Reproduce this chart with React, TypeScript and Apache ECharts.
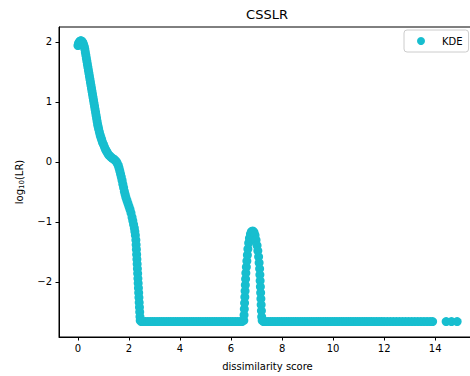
import React, { useEffect, useRef } from "react";
import * as echarts from "echarts";

// Descending part of the KDE curve (dissimilarity score, log10 LR)
const mainX = [0.0, 0.02, 0.04, 0.07, 0.1, 0.13, 0.16, 0.19, 0.22, 0.25, 0.27, 0.29, 0.31, 0.33, 0.35, 0.37, 0.39, 0.41, 0.43, 0.45, 0.47, 0.49, 0.51, 0.53, 0.55, 0.57, 0.59, 0.61, 0.63, 0.65, 0.67, 0.69, 0.71, 0.73, 0.75, 0.77, 0.79, 0.81, 0.84, 0.87, 0.9, 0.93, 0.96, 1.0, 1.04, 1.08, 1.12, 1.16, 1.2, 1.25, 1.3, 1.35, 1.4, 1.45, 1.5, 1.54, 1.58, 1.61, 1.64, 1.67, 1.7, 1.73, 1.76, 1.79, 1.82, 1.85, 1.88, 1.92, 1.96, 2.0, 2.04, 2.08, 2.12, 2.15, 2.18, 2.21, 2.23, 2.25, 2.27, 2.28, 2.29, 2.3, 2.31, 2.32, 2.33, 2.34, 2.35, 2.36, 2.37, 2.38, 2.39, 2.4, 2.41, 2.42, 2.43, 2.44];
const mainY = [1.94, 1.97, 1.99, 2.01, 2.02, 2.02, 2.01, 1.99, 1.96, 1.92, 1.88, 1.83, 1.78, 1.73, 1.68, 1.63, 1.58, 1.53, 1.48, 1.43, 1.38, 1.33, 1.28, 1.23, 1.18, 1.13, 1.08, 1.03, 0.98, 0.93, 0.88, 0.83, 0.78, 0.73, 0.68, 0.63, 0.59, 0.55, 0.5, 0.45, 0.41, 0.37, 0.33, 0.29, 0.25, 0.21, 0.18, 0.15, 0.12, 0.1, 0.08, 0.06, 0.05, 0.03, 0.01, -0.02, -0.06, -0.1, -0.15, -0.2, -0.25, -0.31, -0.37, -0.43, -0.49, -0.54, -0.59, -0.64, -0.69, -0.74, -0.79, -0.85, -0.92, -0.98, -1.04, -1.1, -1.16, -1.22, -1.3, -1.38, -1.46, -1.54, -1.62, -1.7, -1.78, -1.86, -1.94, -2.02, -2.1, -2.18, -2.26, -2.34, -2.42, -2.5, -2.58, -2.64];

// Secondary bump near 6.85
const peakX = [6.5, 6.51, 6.52, 6.53, 6.54, 6.55, 6.56, 6.57, 6.58, 6.6, 6.62, 6.64, 6.66, 6.69, 6.72, 6.76, 6.8, 6.85, 6.9, 6.94, 6.98, 7.02, 7.05, 7.08, 7.1, 7.12, 7.13, 7.14, 7.15, 7.16, 7.17, 7.18, 7.19, 7.2, 7.22];
const peakY = [-2.64, -2.55, -2.45, -2.35, -2.25, -2.15, -2.05, -1.95, -1.85, -1.75, -1.65, -1.55, -1.45, -1.35, -1.27, -1.2, -1.16, -1.15, -1.17, -1.22, -1.3, -1.39, -1.48, -1.58, -1.68, -1.78, -1.88, -1.98, -2.08, -2.18, -2.28, -2.38, -2.48, -2.58, -2.64];

// Floor level points
const FLOOR_Y = -2.66;
const floorX = [2.48, 2.56, 2.65, 2.74, 2.83, 2.92, 3.01, 3.1, 3.19, 3.28, 3.37, 3.46, 3.55, 3.64, 3.73, 3.82, 3.91, 4.0, 4.09, 4.18, 4.27, 4.36, 4.45, 4.54, 4.63, 4.72, 4.81, 4.9, 4.99, 5.08, 5.17, 5.26, 5.35, 5.44, 5.53, 5.62, 5.71, 5.8, 5.89, 5.98, 6.07, 6.16, 6.25, 6.34, 6.43,
  7.27, 7.36, 7.45, 7.54, 7.63, 7.72, 7.81, 7.9, 7.99, 8.08, 8.17, 8.26, 8.35, 8.44, 8.53, 8.62, 8.71, 8.8, 8.89, 8.98, 9.07, 9.16, 9.25, 9.34, 9.43, 9.52, 9.61, 9.7, 9.79, 9.88, 9.97, 10.06, 10.15, 10.24, 10.33, 10.42, 10.51, 10.6, 10.69, 10.78, 10.87, 10.96, 11.05, 11.14, 11.23, 11.32, 11.41, 11.5, 11.6, 11.7, 11.8, 11.9, 12.0, 12.12, 12.24, 12.36, 12.48, 12.6, 12.72, 12.84, 12.96, 13.08, 13.2, 13.32, 13.44, 13.56, 13.68, 13.8, 13.9, 14.43, 14.64, 14.86];

const xTicks = [0, 2, 4, 6, 8, 10, 12, 14];
const yTicks = [-2, -1, 0, 1, 2];

const FONT = "DejaVu Sans";

export default function App() {
  const ref = useRef<HTMLDivElement>(null);
  useEffect(() => {
    if (!ref.current) return;
    const chart = echarts.init(ref.current, null, { renderer: "svg" });
    const data: number[][] = [];
    mainX.forEach((x, i) => data.push([x, mainY[i]]));
    floorX.forEach((x) => data.push([x, FLOOR_Y]));
    peakX.forEach((x, i) => data.push([x, peakY[i]]));
    const minus = (v: number) => String(v).replace("-", "\u2212");
    chart.setOption({
      animation: false,
      backgroundColor: "#fff",
      textStyle: { fontFamily: FONT },
      grid: { left: 59, top: 27, width: 417, height: 310, show: true, borderColor: "#000", borderWidth: 1, backgroundColor: "transparent" },
      graphic: [
        { type: "text", x: 267, y: 14, style: { text: "CSSLR", font: `13px ${FONT}`, fill: "#000", align: "center", verticalAlign: "middle" } },
      ],
      legend: {
        left: 404,
        top: 30,
        orient: "vertical",
        icon: "circle",
        itemWidth: 8,
        itemHeight: 8,
        padding: [6, 6, 6, 13],
        borderColor: "#cccccc",
        borderWidth: 1,
        borderRadius: 3,
        backgroundColor: "rgba(255,255,255,0.8)",
        textStyle: { fontFamily: FONT, fontSize: 10, color: "#000", padding: [0, 0, 0, 12] },
        data: ["KDE"],
      },
      xAxis: {
        type: "value",
        min: -0.743,
        max: 15.6,
        name: "dissimilarity score",
        nameLocation: "middle",
        nameGap: 24,
        nameTextStyle: { fontFamily: FONT, fontSize: 10, color: "#000" },
        axisLine: { show: true, onZero: false, lineStyle: { color: "#000", width: 1 } },
        axisTick: { show: true, length: 3.5, lineStyle: { color: "#000" }, customValues: xTicks },
        axisLabel: { fontFamily: FONT, fontSize: 10, color: "#000", margin: 6, customValues: xTicks, formatter: minus },
        splitLine: { show: false },
      },
      yAxis: {
        type: "value",
        min: -2.917,
        max: 2.25,
        name: "log{sub|10}(LR)",
        nameLocation: "middle",
        nameRotate: 90,
        nameGap: 34,
        nameTextStyle: { fontFamily: FONT, fontSize: 10, color: "#000", rich: { sub: { fontSize: 7, verticalAlign: "bottom", padding: [4, 0, 0, 0] } } },
        axisLine: { show: true, onZero: false, lineStyle: { color: "#000", width: 1 } },
        axisTick: { show: true, length: 3.5, lineStyle: { color: "#000" }, customValues: yTicks },
        axisLabel: { fontFamily: FONT, fontSize: 10, color: "#000", margin: 7, customValues: yTicks, formatter: minus },
        splitLine: { show: false },
      },
      series: [
        {
          name: "KDE",
          type: "scatter",
          symbol: "circle",
          symbolSize: 9,
          itemStyle: { color: "#17becf", opacity: 1 },
          data,
        },
      ],
    });
    return () => chart.dispose();
  }, []);
  return (
    <div style={{ position: "fixed", left: 0, top: 0, width: 470, height: 376, overflow: "hidden", background: "#fff" }}>
      <div ref={ref} style={{ width: 480, height: 376 }} />
    </div>
  );
}
